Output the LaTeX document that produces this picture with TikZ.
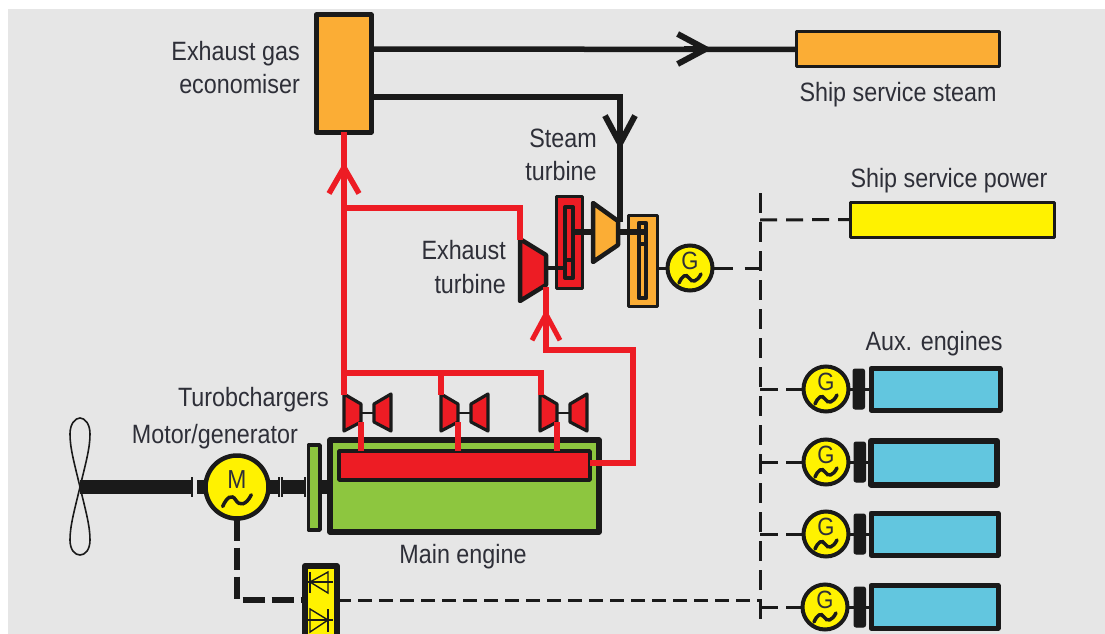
\documentclass[tikz,border=0pt]{standalone}
\usepackage{fontspec}
\setmainfont[FakeStretch=0.88]{Liberation Sans}
\usetikzlibrary{arrows.meta}
\definecolor{bg}{HTML}{E6E6E6}
\definecolor{ink}{HTML}{1A1A1A}
\definecolor{txt}{HTML}{2E2F38}
\definecolor{redc}{HTML}{ED1C24}
\definecolor{orangec}{HTML}{FBAD35}
\definecolor{yellowc}{HTML}{FFF200}
\definecolor{greenc}{HTML}{8DC63F}
\definecolor{bluec}{HTML}{62C6DF}
\tikzset{
  boxn/.style={draw=ink,rectangle,inner sep=0pt,outer sep=0pt,line width=#1,line join=round},
  boxn/.default=3pt,
  label/.style={text=txt,font=\fontsize{26.5}{26.5}\selectfont,inner sep=0pt,text height=19pt,text depth=5pt},
  steampipe/.style={draw=ink,line width=5.5pt,line join=miter},
  gaspipe/.style={draw=redc,line width=5.5pt,line join=miter},
  steamtip/.style={draw=ink,line width=5.5pt,-{Straight Barb[length=28pt,width=30pt,line width=6pt]}},
  gastip/.style={draw=redc,line width=5.5pt,-{Straight Barb[length=26pt,width=30pt,line width=5.5pt]}},
  shaftline/.style={draw=ink,line width=14pt},
  thinshaft/.style={draw=ink,line width=4.5pt},
  tick/.style={draw=ink,line width=2pt},
  elecbus/.style={draw=ink,line width=3pt,dash pattern=on 20pt off 9pt},
  eleclink/.style={draw=ink,line width=3pt,dash pattern=on 17pt off 9pt},
  elecheavy/.style={draw=ink,line width=6pt,dash pattern=on 22pt off 7pt,line join=miter},
  turbine/.style={draw=ink,line width=4.5pt,line join=round},
  machine/.style={circle,draw=ink,fill=yellowc,line width=#1,inner sep=0pt,outer sep=0pt},
  letter/.style={text=txt,inner sep=0pt},
  tildeline/.style={draw=ink,line width=#1,line cap=round},
}
% \rectn[style]{name}{x1}{y1}{x2}{y2}
\newcommand{\rectn}[6][]{\node[boxn,#1,minimum width={((#5)-(#3))*1pt},minimum height={((#6)-(#4))*1pt}] (#2) at ({((#3)+(#5))/2},{((#4)+(#6))/2}) {};}
% \genn{name}{x}{y}{radius}{letter}{font size}{tilde scale}{line}
\newcommand{\genn}[8]{%
  \node[machine=#8,minimum size={2*#4*1pt}] (#1) at (#2,#3) {};
  \node[letter,font=\fontsize{#6}{#6}\selectfont] (#1L) at (#2,#3-7) {#5};
  \begin{scope}[shift={(#2,#3)},scale=#7]
    \draw[tildeline=3.5pt] (-11,15) .. controls (-8,8) and (-4,5) .. (-1,10) .. controls (2,15) and (7,14) .. (11,6);
  \end{scope}}
\begin{document}
\begin{tikzpicture}[x=1pt,y=-1pt]
\useasboundingbox (0,0) rectangle (1105,634);
\clip (0,0) rectangle (1105,634);
\fill[white] (0,0) rectangle (1105,634);
\fill[bg] (8,9) rectangle (1105,634);

% named free points
\coordinate (steamTip) at (712,49);
\coordinate (steamBack) at (684,49);
\coordinate (steamOut) at (372,49);
\coordinate (condOut) at (372,97);
\coordinate (condBend) at (620,97);
\coordinate (condBack) at (620,122);
\coordinate (condTip) at (620,150);
\coordinate (condEnd) at (620,222);
\coordinate (busTop) at (760,193);
\coordinate (busBot) at (760,626);
\coordinate (gasRoot) at (344,373);
\coordinate (gasBack) at (344,188);
\coordinate (gasTip) at (344,162);
\coordinate (gasTee) at (344,208);
\coordinate (gasBend) at (520,208);
\coordinate (gasEnd) at (520,240);
\coordinate (tc1top) at (344,395);
\coordinate (tc2top) at (441,395);
\coordinate (tc3top) at (541,395);
\coordinate (tc2tee) at (441,373);
\coordinate (tc3bend) at (541,373);

% electrical
\draw[elecbus] (busTop) -- (busBot);

% ship service consumers
\rectn[boxn=3pt,fill=orangec]{steam}{796}{32}{999}{67}
\rectn[boxn=3pt,fill=yellowc]{power}{850}{202}{1054}{237}
\coordinate (busP) at (760,220);
\draw[eleclink] (busP) -- (power.west);

% economiser
\rectn[boxn=5pt,fill=orangec]{econ}{316}{15}{371}{132}

% steam pipes
\draw[steampipe] (steamOut) -- (steam.west);
\draw[steamtip] (steamBack) -- (steamTip);
\draw[steampipe] (condOut) -- (condBend) -- (condEnd);
\draw[steamtip] (condBack) -- (condTip);

% steam / exhaust turbine set
\rectn[boxn=3pt,fill=redc]{gearA}{556}{196}{582}{288}
\rectn[boxn=4pt,fill=redc]{gearAin}{565}{207}{573}{278}
\draw[thinshaft] (565,260) -- (573,260);
\draw[thinshaft] (547,268) -- (566,268);
\draw[draw=ink,line width=5.5pt] (574,232) -- (594,232);
\rectn[boxn=3pt,fill=orangec]{gearB}{628}{215}{657}{306}
\rectn[boxn=4.5pt,fill=orangec]{gearBin}{639}{223}{646}{298}
\draw[draw=ink,line width=5.5pt] (618,232) -- (645,232);
\draw[thinshaft] (637,244) -- (647,244);
\draw[turbine,fill=redc] (520,239) -- (546,255) -- (546,285) -- (520,301) -- cycle;
\draw[turbine,fill=orangec] (593,203) -- (618,221) -- (618,245) -- (593,262) -- cycle;
\coordinate (exTurbIn) at (546,287);

\genn{gen0}{690}{268}{22.5}{G}{25}{1}{4pt}
\draw[draw=ink,line width=3pt] (gearB.east |- gen0) -- (gen0.west);
\coordinate (gen0T) at (760,268);
\draw[eleclink,dash pattern=on 20pt off 12pt] (gen0.east) -- (gen0T);

% main engine
\rectn[boxn=5.5pt,fill=greenc]{engine}{330}{440}{599}{532}
\rectn[boxn=3.5pt,fill=redc]{exman}{339}{451}{590}{480}
\rectn[boxn=3.5pt,fill=greenc]{fly}{308.5}{445}{320}{530}

% turbochargers
\foreach \n/\dx in {1/0,2/97,3/196}{
  \begin{scope}[xshift=\dx*1pt]
    \draw[draw=ink,line width=2.6pt] (361,413) -- (375,413);
    \draw[turbine,line width=3.2pt,fill=redc] (344,394) -- (361,404) -- (361,422) -- (344,431) -- cycle;
    \draw[turbine,line width=3.2pt,fill=redc] (374,404) -- (391,394) -- (391,431) -- (374,422) -- cycle;
    \coordinate (tc\n out) at (361,422);
    \coordinate (tc\n down) at (361,451);
  \end{scope}
}

% gas pipes
\draw[gaspipe] (tc1out) -- (tc1down);
\draw[gaspipe] (tc2out) -- (tc2down);
\draw[gaspipe] (tc3out) -- (tc3down);
\draw[gaspipe] (tc1top) -- (gasRoot) -- (tc3bend) -- (tc3top);
\draw[gaspipe] (tc2tee) -- (tc2top);
\draw[gaspipe] (gasRoot) -- (econ.south -| gasRoot);
\draw[gastip] (gasBack) -- (gasTip);
\draw[gaspipe] (gasTee) -- (gasBend) -- (gasEnd);
\coordinate (exOutBend) at (633,463);
\coordinate (exOutTop) at (633,350);
\coordinate (exTurbBend) at (546,350);
\coordinate (exTurbBack) at (546,337);
\coordinate (exTurbTip) at (546,309);
\draw[gaspipe] (exman.east |- exOutBend) -- (exOutBend) -- (exOutTop) -- (exTurbBend) -- (exTurbIn);
\draw[gastip,-{Straight Barb[length=26pt,width=28pt,line width=5pt]}] (exTurbBack) -- (exTurbTip);

% propeller, shaft, motor
\coordinate (hub) at (80,487);
\draw[draw=ink,line width=1.6pt] (hub) .. controls (74,462) and (70,448) .. (70,434) .. controls (70,424) and (75,418) .. (80,418) .. controls (85,418) and (90,424) .. (90,434) .. controls (90,448) and (86,462) .. (hub) .. controls (74,512) and (70,526) .. (70,540) .. controls (70,550) and (75,555) .. (80,555) .. controls (85,555) and (90,550) .. (90,540) .. controls (90,526) and (86,512) .. (hub);
\genn{mot}{237}{487}{31.5}{M}{26}{1.3}{4.5pt}
\coordinate (s1) at (191,487);
\coordinate (s2) at (197,487);
\coordinate (s3) at (278,487);
\coordinate (s4) at (282,487);
\coordinate (s5) at (304,487);
\draw[shaftline] (hub) -- (s1);
\draw[shaftline] (s2) -- (mot.west);
\draw[shaftline] (mot.east) -- (s3);
\draw[shaftline] (s4) -- (s5);
\draw[shaftline] (fly.east |- s5) -- (engine.west |- s5);
\draw[tick] (192,477) -- (192,497);
\draw[tick] (279,477) -- (279,497);
\draw[tick] (282,477) -- (282,497);
\draw[tick] (305,477) -- (305,497);

% rectifier
\rectn[boxn=6pt,fill=yellowc]{rect}{305}{566}{337}{650}
\coordinate (recBend) at (237,600);
\draw[elecheavy] (mot.south) -- (recBend) -- (rect.west |- recBend);
\coordinate (busR) at (762,600);
\draw[eleclink,dash pattern=on 14pt off 7pt] (rect.east |- busR) -- (busR);
\draw[draw=ink,line width=1.4pt] (308,582) -- (333,582);
\draw[draw=ink,line width=1.4pt] (310,572) -- (310,593);
\draw[draw=ink,line width=1.4pt] (310,582) -- (328,572) -- (328,593) -- cycle;
\draw[draw=ink,line width=1.4pt] (308,620) -- (333,620);
\draw[draw=ink,line width=1.4pt] (328,609) -- (328,632);
\draw[draw=ink,line width=1.4pt] (328,620) -- (310,609) -- (310,632) -- cycle;

% aux engines
\foreach \n/\gy/\gx/\bx/\rx/\rtop/\rbot/\lw in {
  1/389/826/853/1000/368.5/410/5,
  2/462/826/854/997/441/484.5/6,
  3/534/826/854/998/513/555/5,
  4/607/825/854/998/585.5/628/5}{
  \draw[draw=ink,line width=3pt] (\gx,\gy) -- (870,\gy);
  \rectn[boxn=\lw pt,fill=bluec]{aux\n}{871}{\rtop}{\rx}{\rbot}
  \rectn[boxn=1pt,fill=ink,rounded corners=2pt]{cpl\n}{\bx}{\gy-20}{\bx+11.5}{\gy+20}
  \genn{g\n}{\gx}{\gy}{22.5}{G}{25}{1}{4pt}
  \coordinate (tap\n) at (760,\gy);
  \draw[eleclink,dash pattern=on 18pt off 8pt on 30pt off 10pt] (tap\n) -- (g\n.west);
}

% labels
\node[label,anchor=east] (l1) at (300,54) {Exhaust gas};
\node[label,anchor=east] (l2) at (300,86) {economiser};
\node[label] (l3) at (898,94) {Ship service steam};
\node[label] (l4) at (949,180) {Ship service power};
\node[label] (l5) at (934,343) {Aux. engines};
\node[label] (l6) at (563,140) {Steam};
\node[label] (l7) at (561,173) {turbine};
\node[label,anchor=east] (l8) at (506,252) {Exhaust};
\node[label,anchor=east] (l9) at (506,286) {turbine};
\node[label,anchor=east] (l10) at (329,399) {Turobchargers};
\node[label,anchor=east] (l11) at (298,436) {Motor/generator};
\node[label] (l12) at (463,556) {Main engine};
\end{tikzpicture}
\end{document}
